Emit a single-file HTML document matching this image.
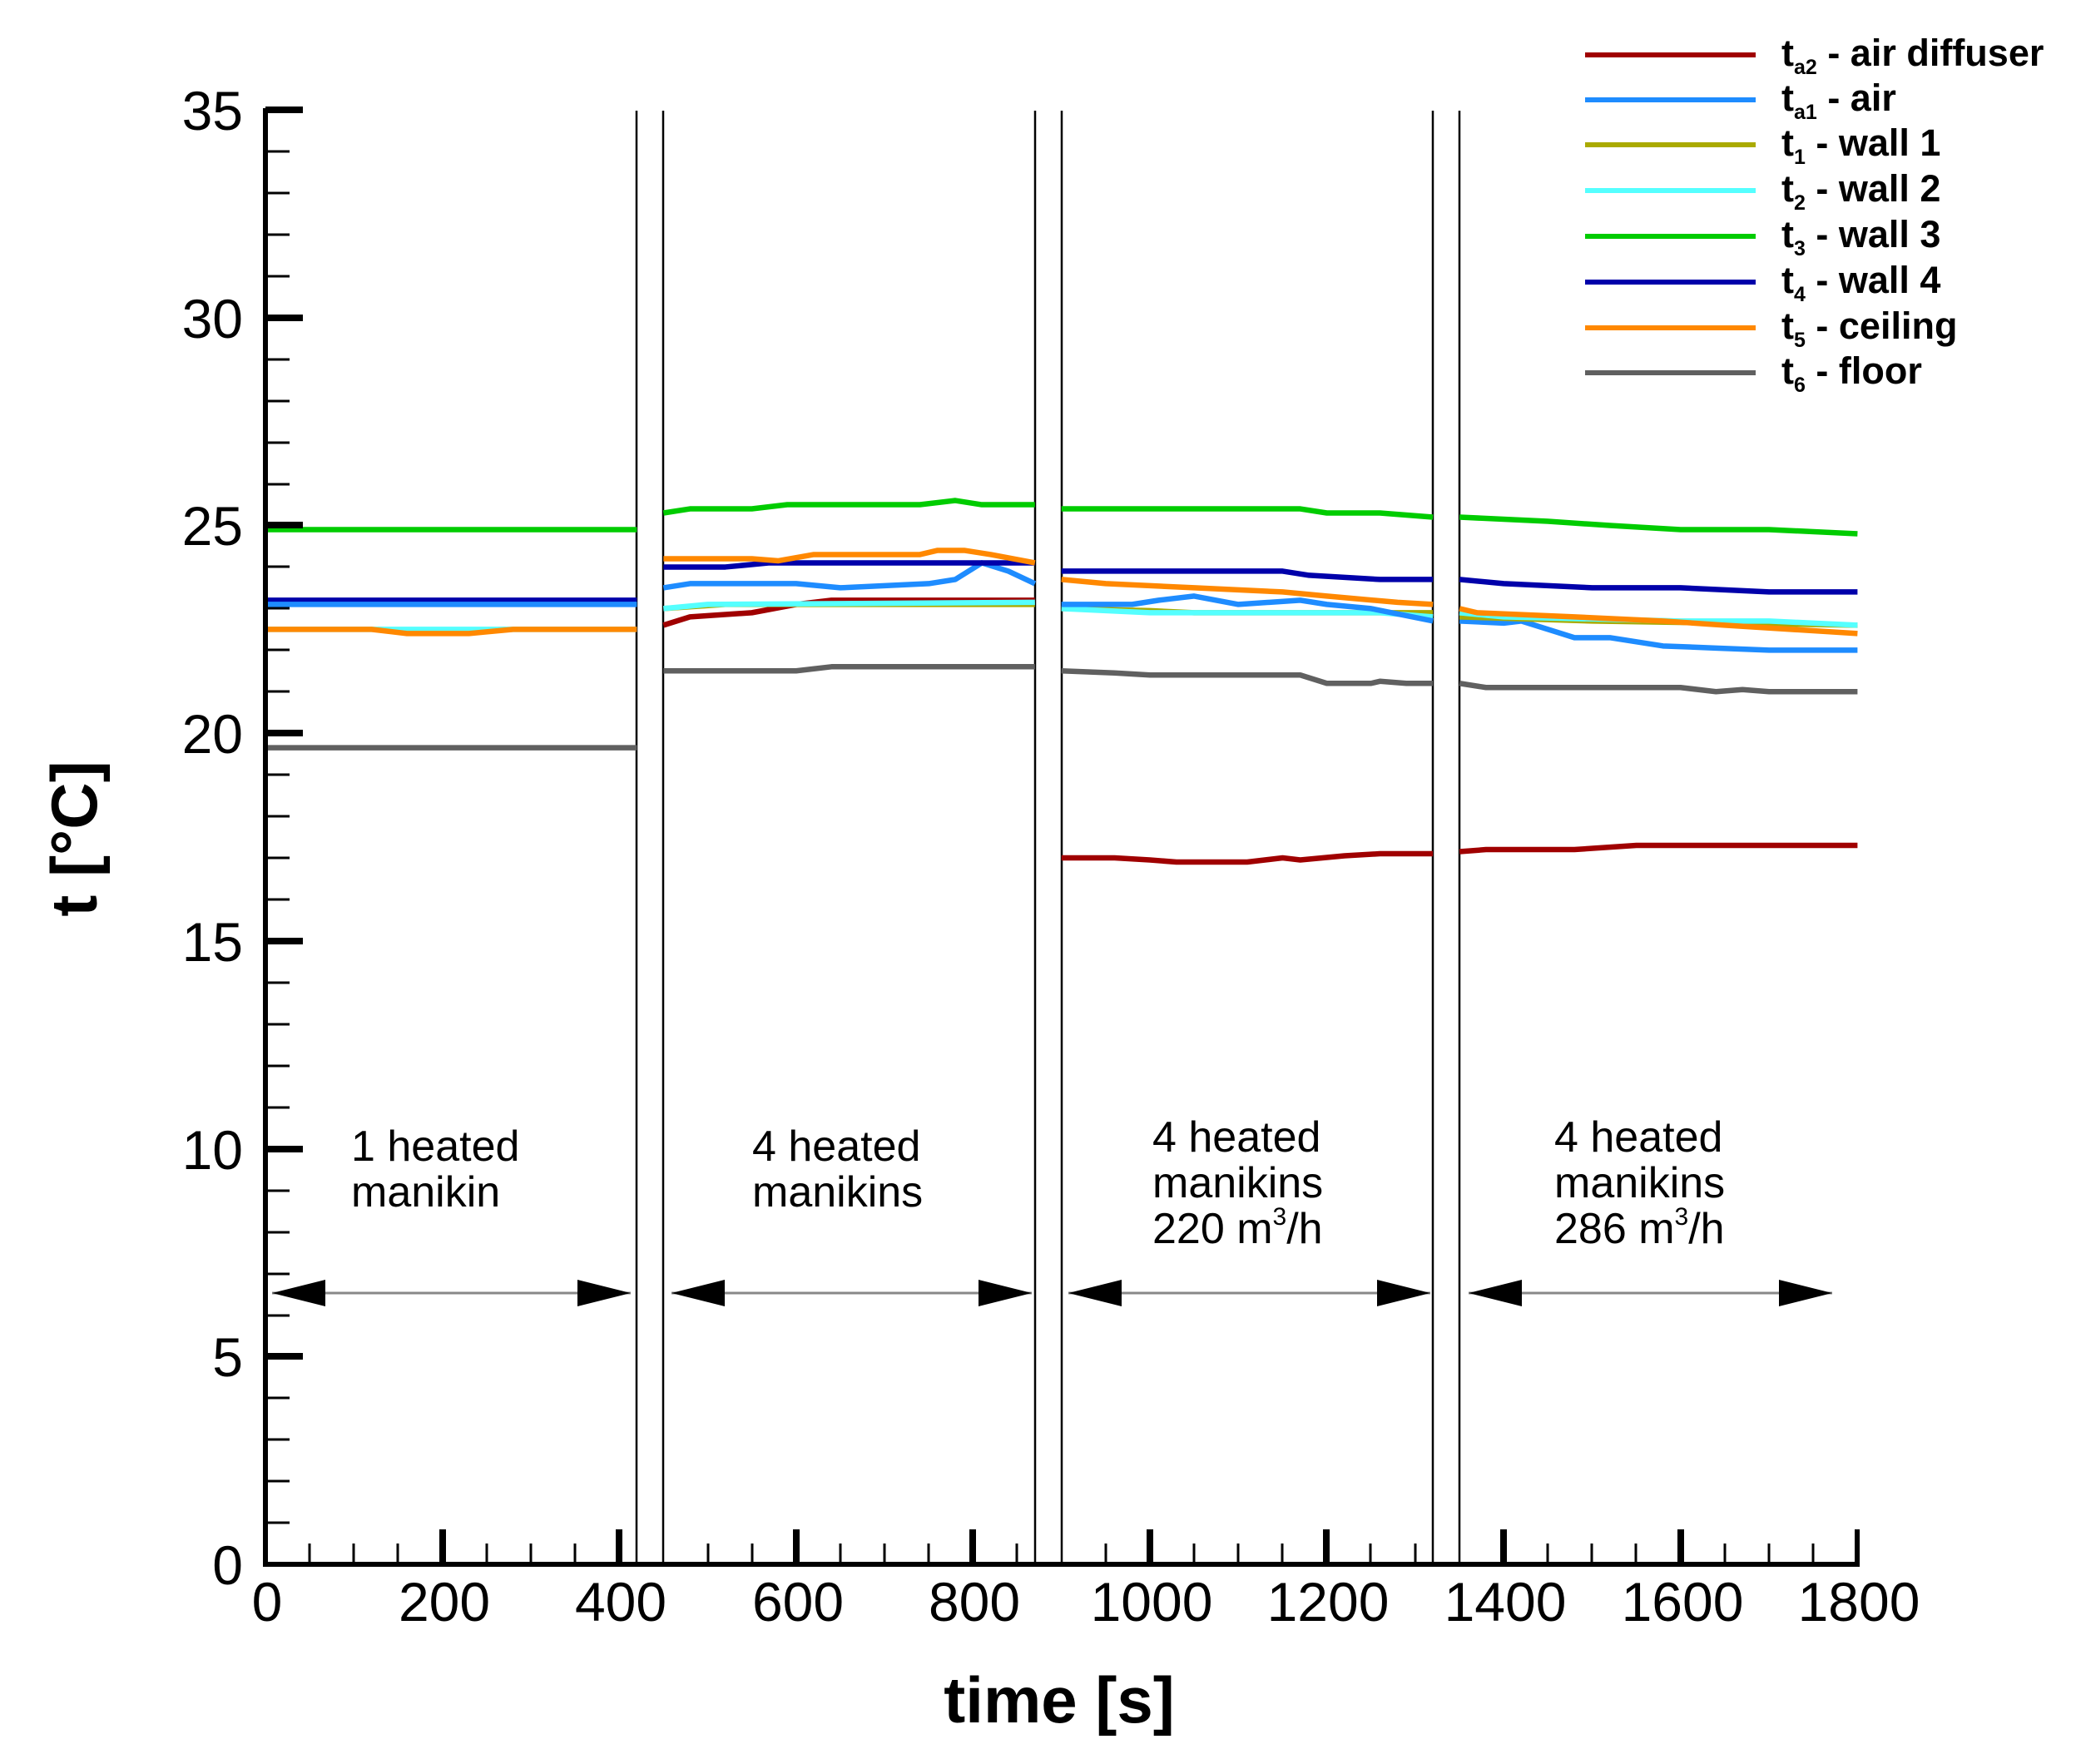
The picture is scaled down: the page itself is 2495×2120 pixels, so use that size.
<!DOCTYPE html>
<html><head><meta charset="utf-8"><style>
html,body{margin:0;padding:0;background:#fff}
svg{display:block}
text{font-family:"Liberation Sans",Arial,sans-serif;fill:#000}
.d polyline{fill:none;stroke-width:6.5;vector-effect:non-scaling-stroke;stroke-linejoin:round}
</style></head><body>
<svg width="2495" height="2120" viewBox="0 0 2495 2120" xmlns="http://www.w3.org/2000/svg">
<rect width="2495" height="2120" fill="#fff"/>
<g stroke="#000" stroke-width="2.5">
<line x1="765" y1="133" x2="765" y2="1880"/>
<line x1="797" y1="133" x2="797" y2="1880"/>
<line x1="1244" y1="133" x2="1244" y2="1880"/>
<line x1="1276" y1="133" x2="1276" y2="1880"/>
<line x1="1722" y1="133" x2="1722" y2="1880"/>
<line x1="1754" y1="133" x2="1754" y2="1880"/>
</g>
<g class="d" transform="translate(319,1880) scale(1.063,-49.94)">
<polyline stroke="#0000aa" points="0,23.2 420,23.2"/>
<polyline stroke="#1e8cff" points="0,23.1 420,23.1"/>
<polyline stroke="#55ffff" points="0,22.5 150,22.5 300,22.5 420,22.5"/>
<polyline stroke="#ff8800" points="0,22.5 120,22.5 160,22.4 230,22.4 280,22.5 420,22.5"/>
<polyline stroke="#00cc00" points="0,24.9 420,24.9"/>
<polyline stroke="#606060" points="0,19.65 420,19.65"/>

<polyline stroke="#a00000" points="450,22.6 480,22.8 550,22.9 600,23.1 640,23.2 870,23.2"/>
<polyline stroke="#aaaa00" points="450,23.0 520,23.1 870,23.1"/>
<polyline stroke="#55ffff" points="450,23.0 500,23.1 870,23.15"/>
<polyline stroke="#606060" points="450,21.5 600,21.5 640,21.6 870,21.6"/>
<polyline stroke="#1e8cff" points="450,23.5 480,23.6 600,23.6 650,23.5 750,23.6 780,23.7 810,24.1 840,23.9 870,23.6"/>
<polyline stroke="#0000aa" points="450,24.0 520,24.0 570,24.1 860,24.1 870,24.1"/>
<polyline stroke="#ff8800" points="450,24.2 550,24.2 580,24.15 620,24.3 740,24.3 760,24.4 790,24.4 820,24.3 870,24.1"/>
<polyline stroke="#00cc00" points="450,25.3 480,25.4 550,25.4 590,25.5 740,25.5 780,25.6 810,25.5 870,25.5"/>

<polyline stroke="#a00000" points="900,17.0 960,17.0 1000,16.95 1030,16.9 1110,16.9 1150,17.0 1170,16.95 1220,17.05 1260,17.1 1320,17.1"/>
<polyline stroke="#606060" points="900,21.5 960,21.45 1000,21.4 1170,21.4 1200,21.2 1250,21.2 1260,21.25 1290,21.2 1320,21.2"/>
<polyline stroke="#aaaa00" points="900,23.0 1000,22.95 1050,22.9 1320,22.9"/>
<polyline stroke="#55ffff" points="900,23.0 1000,22.9 1260,22.9 1320,22.8"/>
<polyline stroke="#1e8cff" points="900,23.1 980,23.1 1010,23.2 1050,23.3 1100,23.1 1170,23.2 1200,23.1 1250,23.0 1320,22.7"/>
<polyline stroke="#ff8800" points="900,23.7 950,23.6 1050,23.5 1150,23.4 1200,23.3 1280,23.15 1320,23.1"/>
<polyline stroke="#0000aa" points="900,23.9 1150,23.9 1180,23.8 1260,23.7 1320,23.7"/>
<polyline stroke="#00cc00" points="900,25.4 1170,25.4 1200,25.3 1260,25.3 1320,25.2"/>

<polyline stroke="#a00000" points="1350,17.15 1380,17.2 1480,17.2 1550,17.3 1800,17.3"/>
<polyline stroke="#606060" points="1350,21.2 1380,21.1 1600,21.1 1640,21.0 1670,21.05 1700,21.0 1800,21.0"/>
<polyline stroke="#1e8cff" points="1350,22.7 1400,22.65 1420,22.7 1480,22.3 1520,22.3 1580,22.1 1640,22.05 1700,22.0 1800,22.0"/>
<polyline stroke="#aaaa00" points="1350,22.8 1500,22.7 1800,22.6"/>
<polyline stroke="#55ffff" points="1350,22.9 1400,22.8 1600,22.7 1700,22.7 1800,22.6"/>
<polyline stroke="#ff8800" points="1350,23.0 1370,22.9 1480,22.8 1580,22.7 1650,22.6 1800,22.4"/>
<polyline stroke="#0000aa" points="1350,23.7 1400,23.6 1500,23.5 1600,23.5 1700,23.4 1800,23.4"/>
<polyline stroke="#00cc00" points="1350,25.2 1450,25.1 1520,25.0 1600,24.9 1700,24.9 1800,24.8"/>
</g>
<g stroke="#000">
<line x1="319" y1="130" x2="319" y2="1883" stroke-width="6"/>
<line x1="316" y1="1880" x2="2235" y2="1880" stroke-width="6"/>
<line x1="2232" y1="1838" x2="2232" y2="1883" stroke-width="6"/>
</g>
<g stroke="#000" stroke-width="8">
<line x1="319" y1="132" x2="364" y2="132"/><line x1="319" y1="382" x2="364" y2="382"/>
<line x1="319" y1="631" x2="364" y2="631"/><line x1="319" y1="881" x2="364" y2="881"/>
<line x1="319" y1="1131" x2="364" y2="1131"/><line x1="319" y1="1381" x2="364" y2="1381"/>
<line x1="319" y1="1630" x2="364" y2="1630"/>
</g>
<g stroke="#000" stroke-width="3">
<line x1="319" y1="182" x2="348" y2="182"/><line x1="319" y1="232" x2="348" y2="232"/><line x1="319" y1="282" x2="348" y2="282"/><line x1="319" y1="332" x2="348" y2="332"/>
<line x1="319" y1="432" x2="348" y2="432"/><line x1="319" y1="482" x2="348" y2="482"/><line x1="319" y1="532" x2="348" y2="532"/><line x1="319" y1="582" x2="348" y2="582"/>
<line x1="319" y1="681" x2="348" y2="681"/><line x1="319" y1="731" x2="348" y2="731"/><line x1="319" y1="781" x2="348" y2="781"/><line x1="319" y1="831" x2="348" y2="831"/>
<line x1="319" y1="931" x2="348" y2="931"/><line x1="319" y1="981" x2="348" y2="981"/><line x1="319" y1="1031" x2="348" y2="1031"/><line x1="319" y1="1081" x2="348" y2="1081"/>
<line x1="319" y1="1181" x2="348" y2="1181"/><line x1="319" y1="1231" x2="348" y2="1231"/><line x1="319" y1="1281" x2="348" y2="1281"/><line x1="319" y1="1331" x2="348" y2="1331"/>
<line x1="319" y1="1431" x2="348" y2="1431"/><line x1="319" y1="1481" x2="348" y2="1481"/><line x1="319" y1="1531" x2="348" y2="1531"/><line x1="319" y1="1581" x2="348" y2="1581"/>
<line x1="319" y1="1680" x2="348" y2="1680"/><line x1="319" y1="1730" x2="348" y2="1730"/><line x1="319" y1="1780" x2="348" y2="1780"/><line x1="319" y1="1830" x2="348" y2="1830"/>
</g>
<g stroke="#000" stroke-width="8">
<line x1="532" y1="1880" x2="532" y2="1838"/><line x1="744" y1="1880" x2="744" y2="1838"/>
<line x1="957" y1="1880" x2="957" y2="1838"/><line x1="1169" y1="1880" x2="1169" y2="1838"/>
<line x1="1382" y1="1880" x2="1382" y2="1838"/><line x1="1594" y1="1880" x2="1594" y2="1838"/>
<line x1="1807" y1="1880" x2="1807" y2="1838"/><line x1="2020" y1="1880" x2="2020" y2="1838"/>
</g>
<g stroke="#000" stroke-width="3">
<line x1="372" y1="1880" x2="372" y2="1855"/><line x1="425" y1="1880" x2="425" y2="1855"/><line x1="478" y1="1880" x2="478" y2="1855"/>
<line x1="585" y1="1880" x2="585" y2="1855"/><line x1="638" y1="1880" x2="638" y2="1855"/><line x1="691" y1="1880" x2="691" y2="1855"/>
<line x1="851" y1="1880" x2="851" y2="1855"/><line x1="904" y1="1880" x2="904" y2="1855"/>
<line x1="1010" y1="1880" x2="1010" y2="1855"/><line x1="1063" y1="1880" x2="1063" y2="1855"/><line x1="1116" y1="1880" x2="1116" y2="1855"/>
<line x1="1222" y1="1880" x2="1222" y2="1855"/><line x1="1329" y1="1880" x2="1329" y2="1855"/>
<line x1="1435" y1="1880" x2="1435" y2="1855"/><line x1="1488" y1="1880" x2="1488" y2="1855"/><line x1="1541" y1="1880" x2="1541" y2="1855"/>
<line x1="1647" y1="1880" x2="1647" y2="1855"/><line x1="1701" y1="1880" x2="1701" y2="1855"/>
<line x1="1860" y1="1880" x2="1860" y2="1855"/><line x1="1913" y1="1880" x2="1913" y2="1855"/><line x1="1966" y1="1880" x2="1966" y2="1855"/>
<line x1="2073" y1="1880" x2="2073" y2="1855"/><line x1="2126" y1="1880" x2="2126" y2="1855"/><line x1="2179" y1="1880" x2="2179" y2="1855"/>
</g>
<g font-size="66" text-anchor="end">
<text x="292" y="156">35</text><text x="292" y="406">30</text><text x="292" y="655">25</text>
<text x="292" y="905">20</text><text x="292" y="1155">15</text><text x="292" y="1405">10</text>
<text x="292" y="1654">5</text><text x="292" y="1904">0</text>
</g>
<g font-size="66" text-anchor="middle">
<text x="321" y="1948">0</text><text x="534" y="1948">200</text><text x="746" y="1948">400</text>
<text x="959" y="1948">600</text><text x="1171" y="1948">800</text><text x="1384" y="1948">1000</text>
<text x="1596" y="1948">1200</text><text x="1809" y="1948">1400</text><text x="2022" y="1948">1600</text>
<text x="2234" y="1948">1800</text>
</g>
<text x="1273" y="2070" font-size="78" font-weight="bold" text-anchor="middle">time [s]</text>
<text transform="translate(116,1008) rotate(-90)" font-size="78" font-weight="bold" text-anchor="middle">t [°C]</text>
<g font-size="52">
<text x="422" y="1395">1 heated</text><text x="422" y="1450">manikin</text>
<text x="904" y="1395">4 heated</text><text x="904" y="1450">manikins</text>
<text x="1385" y="1384">4 heated</text><text x="1385" y="1439">manikins</text><text x="1385" y="1494">220 m<tspan dy="-22" font-size="30">3</tspan><tspan dy="22">/h</tspan></text>
<text x="1868" y="1384">4 heated</text><text x="1868" y="1439">manikins</text><text x="1868" y="1494">286 m<tspan dy="-22" font-size="30">3</tspan><tspan dy="22">/h</tspan></text>
</g>
<g stroke="#888" stroke-width="3">
<line x1="327" y1="1554" x2="758" y2="1554"/><line x1="807" y1="1554" x2="1240" y2="1554"/>
<line x1="1284" y1="1554" x2="1719" y2="1554"/><line x1="1765" y1="1554" x2="2202" y2="1554"/>
</g>
<g fill="#000">
<polygon points="327,1554 391,1538 391,1570"/><polygon points="758,1554 694,1538 694,1570"/>
<polygon points="807,1554 871,1538 871,1570"/><polygon points="1240,1554 1176,1538 1176,1570"/>
<polygon points="1284,1554 1348,1538 1348,1570"/><polygon points="1719,1554 1655,1538 1655,1570"/>
<polygon points="1765,1554 1829,1538 1829,1570"/><polygon points="2202,1554 2138,1538 2138,1570"/>
</g>
<g stroke-width="6">
<line x1="1905" y1="66" x2="2110" y2="66" stroke="#a00000"/>
<line x1="1905" y1="120" x2="2110" y2="120" stroke="#1e8cff"/>
<line x1="1905" y1="174" x2="2110" y2="174" stroke="#aaaa00"/>
<line x1="1905" y1="229" x2="2110" y2="229" stroke="#55ffff"/>
<line x1="1905" y1="284" x2="2110" y2="284" stroke="#00cc00"/>
<line x1="1905" y1="339" x2="2110" y2="339" stroke="#0000aa"/>
<line x1="1905" y1="394" x2="2110" y2="394" stroke="#ff8800"/>
<line x1="1905" y1="448" x2="2110" y2="448" stroke="#606060"/>
</g>
<g font-size="45" font-weight="bold">
<text x="2141" y="79">t<tspan font-size="25" dy="10">a2</tspan><tspan dy="-10"> - air diffuser</tspan></text>
<text x="2141" y="133">t<tspan font-size="25" dy="10">a1</tspan><tspan dy="-10"> - air</tspan></text>
<text x="2141" y="187">t<tspan font-size="25" dy="10">1</tspan><tspan dy="-10"> - wall 1</tspan></text>
<text x="2141" y="242">t<tspan font-size="25" dy="10">2</tspan><tspan dy="-10"> - wall 2</tspan></text>
<text x="2141" y="297">t<tspan font-size="25" dy="10">3</tspan><tspan dy="-10"> - wall 3</tspan></text>
<text x="2141" y="352">t<tspan font-size="25" dy="10">4</tspan><tspan dy="-10"> - wall 4</tspan></text>
<text x="2141" y="407">t<tspan font-size="25" dy="10">5</tspan><tspan dy="-10"> - ceiling</tspan></text>
<text x="2141" y="461">t<tspan font-size="25" dy="10">6</tspan><tspan dy="-10"> - floor</tspan></text>
</g>
</svg>
</body></html>
